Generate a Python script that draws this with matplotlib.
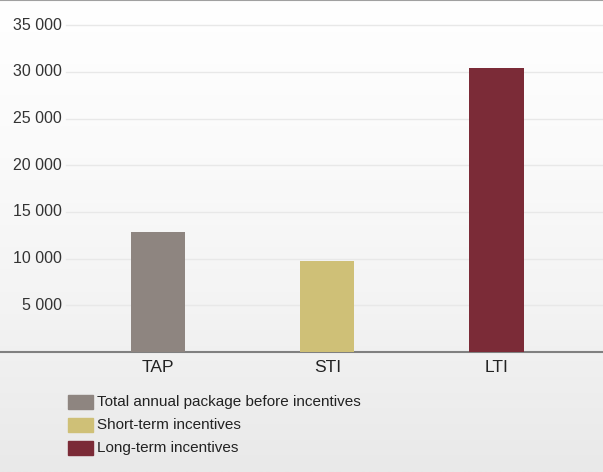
import matplotlib
matplotlib.use("Agg")
import matplotlib.pyplot as plt
import numpy as np
from matplotlib.patches import Rectangle

categories = ["TAP", "STI", "LTI"]
values = [12850, 9750, 30400]
legend_labels = ["Total annual package before incentives",
                 "Short-term incentives", "Long-term incentives"]
colors = ["#8e8580", "#cfc077", "#7b2b37"]
yticks = [5000, 10000, 15000, 20000, 25000, 30000, 35000]
ytick_labels = ["5 000", "10 000", "15 000", "20 000", "25 000", "30 000", "35 000"]

W, H = 603, 472
fig = plt.figure(figsize=(W / 100, H / 100), dpi=100)

# background gradient, white at top to light grey at bottom
bg = fig.add_axes([0, 0, 1, 1], zorder=0)
grad = np.linspace(0, 1, 256).reshape(-1, 1)
bg.imshow(grad, aspect="auto", cmap=matplotlib.colors.LinearSegmentedColormap.from_list(
    "bg", ["#ffffff", "#fafafa", "#f3f3f3", "#e9e9e9"]), extent=[0, 1, 0, 1], origin="upper")
bg.axis("off")

ax = fig.add_axes([0, 1 - 352 / H, 1, 352 / H], zorder=1)
ax.patch.set_alpha(0)
ax.set_ylim(0, 37690)
ax.set_xlim(-0.935, 2.63)

x = np.arange(len(categories))
ax.bar(x, values, width=0.32, color=colors, zorder=3)

# grid lines starting right of the labels
for t, lab in zip(yticks, ytick_labels):
    ax.axhline(t, xmin=66 / W, xmax=1, color="#e8e8e8", lw=1.0, zorder=1)
    ax.text(62 / W, t, lab, transform=ax.get_yaxis_transform(), ha="right",
            va="center", fontsize=11.5, color="#333333", family="Liberation Sans")

for s in ["left", "right"]:
    ax.spines[s].set_visible(False)
ax.spines["top"].set_color("#a0a0a0")
ax.spines["top"].set_linewidth(1.5)
ax.spines["bottom"].set_color("#808080")
ax.spines["bottom"].set_linewidth(1.5)
ax.set_yticks([])
ax.set_xticks(x)
ax.set_xticklabels(categories, fontsize=12.5, color="#222222", family="Liberation Sans")
ax.tick_params(axis="x", length=0, pad=6)

# legend
for i, (lab, c) in enumerate(zip(legend_labels, colors)):
    yc = 402 + i * 23
    fig.patches.append(Rectangle((68 / W, 1 - (yc + 7) / H), 25 / W, 14 / H,
                                 transform=fig.transFigure, color=c, zorder=5))
    fig.text(97 / W, 1 - yc / H, lab, ha="left", va="center", fontsize=11,
             color="#222222", family="Liberation Sans")

fig.savefig("out.png", dpi=100)
